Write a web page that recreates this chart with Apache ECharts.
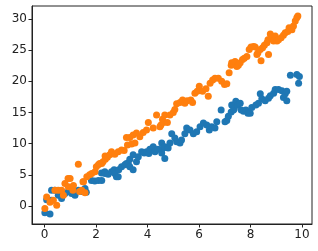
<!DOCTYPE html>
<html lang="en">
<head>
    <meta charset="utf-8">
    <title>scatter</title>
    <script src="https://cdn.jsdelivr.net/npm/echarts@6/dist/echarts.min.js"></script>
    <style>
        html, body { margin: 0; padding: 0; background: #fff; }
        #chart { width: 318px; height: 251px; }
    </style>
</head>
<body>
<div id="chart"></div>
<script>
    // blue series (x, y)
    var blueX = [0.01, 0.21, 0.08, 0.27, 0.27, 0.40, 0.53, 0.66, 0.79, 0.92, 1.05, 1.18, 1.31, 1.44, 1.57, 1.62,
        1.82, 1.95, 2.09, 2.22, 2.21, 2.34, 2.35, 2.47, 2.60, 2.70, 2.73, 2.79, 2.86, 2.88, 2.99, 3.12, 3.18, 3.25,
        3.31, 3.31, 3.44, 3.44, 3.57, 3.64, 3.77, 3.87, 3.96, 4.05, 4.09, 4.22, 4.29, 4.41, 4.55, 4.55, 4.61, 4.67,
        4.67, 4.80, 4.87, 4.94, 5.06, 5.13, 5.26, 5.32, 5.45, 5.52, 5.65, 5.78, 5.91, 6.04, 6.17, 6.30, 6.40, 6.49,
        6.62, 6.69, 6.86, 7.01, 7.08, 7.14, 7.25, 7.27, 7.34, 7.37, 7.43, 7.51, 7.60, 7.64, 7.73, 7.82, 7.90, 7.99,
        8.05, 8.21, 8.31, 8.38, 8.44, 8.57, 8.70, 8.77, 8.90, 8.96, 9.09, 9.22, 9.28, 9.35, 9.41, 9.41, 9.55, 9.80,
        9.90, 9.87];
    var blueY = [-1.1, -1.3, 1.0, 0.9, 2.5, 2.5, 1.7, 1.2, 2.0, 2.3, 2.0, 1.7, 2.5, 2.3, 2.8, 2.2,
        4.1, 4.0, 4.1, 4.1, 5.3, 5.5, 5.2, 5.1, 5.5, 5.8, 5.2, 4.7, 4.7, 5.8, 6.3, 6.6, 6.8, 6.8,
        7.5, 6.3, 8.2, 5.8, 7.1, 7.9, 8.7, 8.5, 8.7, 8.4, 9.1, 9.5, 8.7, 9.1, 10.1, 8.5, 9.3, 9.5,
        7.6, 9.3, 10.1, 11.6, 10.9, 10.3, 10.1, 10.6, 11.6, 12.5, 12.2, 11.6, 11.9, 12.7, 13.3, 13.0, 12.2, 12.7,
        12.5, 13.5, 15.4, 13.5, 13.7, 14.4, 15.1, 16.2, 15.4, 15.6, 16.8, 16.2, 16.5, 15.4, 15.2, 15.4, 14.9, 14.9,
        15.8, 16.2, 16.5, 18.0, 17.2, 16.9, 17.3, 17.7, 18.1, 18.7, 18.7, 18.5, 17.4, 18.0, 18.4, 16.9, 21.0, 21.1,
        20.8, 19.7];

    // orange series (x, y)
    var orangeX = [0.01, 0.08, 0.21, 0.34, 0.40, 0.47, 0.53, 0.66, 0.73, 0.79, 0.91, 0.92, 0.99, 1.10, 1.12, 1.31,
        1.36, 1.44, 1.49, 1.51, 1.57, 1.64, 1.75, 1.83, 1.96, 2.01, 2.09, 2.14, 2.22, 2.27, 2.35, 2.36, 2.44, 2.53,
        2.60, 2.73, 2.86, 2.99, 3.09, 3.18, 3.22, 3.31, 3.38, 3.44, 3.51, 3.57, 3.70, 3.83, 3.96, 4.03, 4.22, 4.35,
        4.48, 4.52, 4.58, 4.61, 4.67, 4.77, 4.87, 5.00, 5.06, 5.13, 5.26, 5.36, 5.45, 5.54, 5.68, 5.75, 5.84, 5.93,
        6.01, 6.14, 6.27, 6.36, 6.43, 6.53, 6.62, 6.75, 6.88, 6.99, 7.08, 7.17, 7.25, 7.27, 7.34, 7.40, 7.47, 7.53,
        7.60, 7.69, 7.76, 7.86, 7.95, 8.02, 8.12, 8.18, 8.25, 8.29, 8.38, 8.41, 8.47, 8.54, 8.64, 8.68, 8.70, 8.77,
        8.80, 8.90, 8.96, 9.03, 9.09, 9.19, 9.28, 9.35, 9.45, 9.50, 9.61, 9.67, 9.74, 9.80, 9.84];
    var orangeY = [-0.4, 1.45, 0.6, 0.9, 2.5, 0.1, 2.5, 2.5, 1.7, 3.6, 4.4, 3.1, 4.4, 2.5, 3.3, 6.7,
        2.3, 2.5, 3.9, 3.9, 2.1, 4.7, 5.0, 5.2, 5.5, 6.3, 6.6, 6.8, 6.8, 7.1, 8.0, 7.5, 7.8, 8.2,
        8.7, 8.3, 8.7, 9.0, 8.9, 11.0, 9.8, 11.0, 9.95, 11.4, 10.1, 11.7, 11.1, 11.8, 12.2, 13.4, 12.5, 14.6,
        12.7, 13.0, 13.9, 13.4, 14.6, 13.4, 14.6, 15.0, 15.5, 16.4, 16.6, 17.0, 16.5, 16.9, 17.0, 16.6, 18.1, 18.4,
        19.2, 18.4, 18.8, 17.6, 19.7, 20.2, 20.5, 20.5, 20.0, 19.5, 19.6, 21.4, 22.6, 23.0, 22.8, 23.2, 22.4, 22.6,
        23.0, 23.5, 23.7, 24.0, 25.1, 25.5, 25.6, 25.5, 24.3, 24.6, 25.1, 23.3, 25.4, 25.8, 26.2, 26.7, 24.3, 27.6,
        27.0, 26.5, 27.3, 26.5, 26.7, 27.0, 27.4, 27.8, 28.0, 28.6, 28.3, 28.9, 29.7, 30.2, 30.5];

    var xTicks = [0, 2, 4, 6, 8, 10];
    var yTicks = [0, 5, 10, 15, 20, 25, 30];

    function pairs(xs, ys) {
        var out = [];
        for (var i = 0; i < xs.length; i++) {
            out.push([xs[i], ys[i]]);
        }
        return out;
    }

    var chart = echarts.init(document.getElementById('chart'), null, {renderer: 'canvas'});
    var labelStyle = {color: '#222', fontSize: 12, fontFamily: 'DejaVu Sans'};

    var option = {
        animation: false,
        backgroundColor: '#fff',
        grid: {
            left: 32, right: 6, top: 6, bottom: 27,
            show: true, borderColor: '#222', borderWidth: 1
        },
        xAxis: {
            type: 'value',
            min: -0.49,
            max: 10.39,
            splitLine: {show: false},
            axisLine: {show: true, onZero: false, lineStyle: {color: '#222'}},
            axisTick: {show: true, length: 3.5, lineStyle: {color: '#222'}, customValues: xTicks},
            axisLabel: Object.assign({margin: 5, customValues: xTicks}, labelStyle)
        },
        yAxis: {
            type: 'value',
            min: -2.9,
            max: 32.1,
            splitLine: {show: false},
            axisLine: {show: true, onZero: false, lineStyle: {color: '#222'}},
            axisTick: {show: true, length: 3.5, lineStyle: {color: '#222'}, customValues: yTicks},
            axisLabel: Object.assign({margin: 5, customValues: yTicks}, labelStyle)
        },
        series: [
            {
                name: 'blue',
                type: 'scatter',
                symbolSize: 7,
                itemStyle: {color: '#1f77b4', opacity: 1},
                data: pairs(blueX, blueY)
            },
            {
                name: 'orange',
                type: 'scatter',
                symbolSize: 7,
                itemStyle: {color: '#ff7f0e', opacity: 1},
                data: pairs(orangeX, orangeY)
            }
        ]
    };
    chart.setOption(option);
</script>
</body>
</html>
